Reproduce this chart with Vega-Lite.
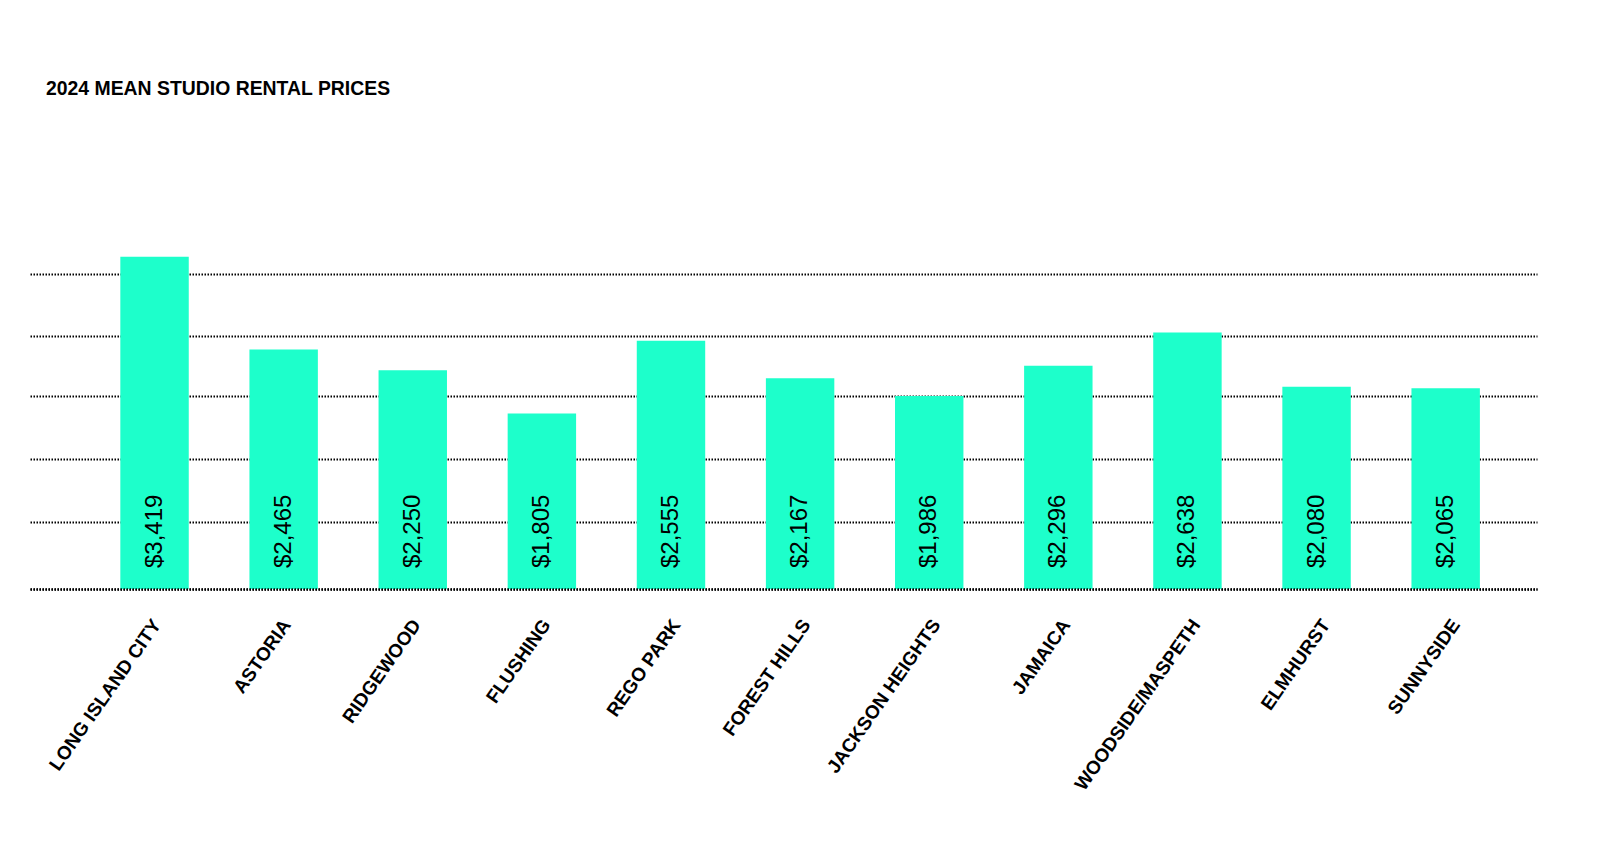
{
  "$schema": "https://vega.github.io/schema/vega-lite/v6.json",
  "width": 1507,
  "height": 340,
  "autosize": "none",
  "padding": {"left": 30, "top": 249, "right": 63, "bottom": 254},
  "background": "white",
  "config": {"view": {"stroke": null}, "font": "Liberation Sans"},
  "title": {
    "text": "2024 MEAN STUDIO RENTAL PRICES",
    "anchor": "start",
    "frame": "group",
    "font": "Liberation Sans",
    "fontSize": 19.4,
    "fontWeight": "bold",
    "color": "black",
    "baseline": "alphabetic",
    "offset": 135,
    "dx": 16
  },
  "data": {
    "values": [
      {"neighborhood": "LONG ISLAND CITY", "price": 3419},
      {"neighborhood": "ASTORIA", "price": 2465},
      {"neighborhood": "RIDGEWOOD", "price": 2250},
      {"neighborhood": "FLUSHING", "price": 1805},
      {"neighborhood": "REGO PARK", "price": 2555},
      {"neighborhood": "FOREST HILLS", "price": 2167},
      {"neighborhood": "JACKSON HEIGHTS", "price": 1986},
      {"neighborhood": "JAMAICA", "price": 2296},
      {"neighborhood": "WOODSIDE/MASPETH", "price": 2638},
      {"neighborhood": "ELMHURST", "price": 2080},
      {"neighborhood": "SUNNYSIDE", "price": 2065}
    ]
  },
  "encoding": {
    "x": {
      "field": "neighborhood",
      "type": "nominal",
      "sort": null,
      "scale": {"paddingInner": 0.47, "paddingOuter": 0.571, "align": 0.6126},
      "axis": {
        "title": null,
        "labelAngle": -55,
        "labelAlign": "right",
        "labelBaseline": "middle",
        "labelFont": "Liberation Sans",
        "labelFontSize": 19,
        "labelFontWeight": "bold",
        "labelColor": "black",
        "labelLimit": 400,
        "labelOverlap": false,
        "labelPadding": 32,
        "labelOffset": {"expr": "2.3 + 8*datum.index"},
        "ticks": false,
        "domain": true,
        "domainColor": "black",
        "domainDash": [1.5, 1.5],
        "domainWidth": 2.5,
        "zindex": 1
      }
    }
  },
  "layer": [
    {
      "mark": {"type": "bar", "color": "#1DFFCB"},
      "encoding": {
        "y": {
          "field": "price",
          "type": "quantitative",
          "scale": {"domain": [0, 3498], "nice": false},
          "axis": {
            "title": null,
            "labels": false,
            "ticks": false,
            "domain": false,
            "grid": true,
            "values": [0, 685, 1337, 1990, 2599, 3241],
            "gridColor": "black",
            "gridDash": [1.5, 1.5],
            "gridWidth": 2
          }
        }
      }
    },
    {
      "mark": {
        "type": "text",
        "angle": 270,
        "align": "left",
        "baseline": "middle",
        "dx": 21,
        "font": "Liberation Sans",
        "fontSize": 24,
        "color": "black"
      },
      "encoding": {
        "y": {"datum": 0, "type": "quantitative"},
        "text": {"field": "price", "type": "quantitative", "format": "$,d"}
      }
    }
  ]
}
